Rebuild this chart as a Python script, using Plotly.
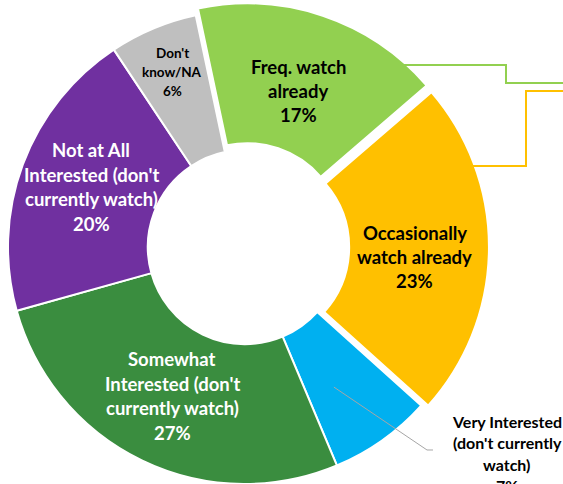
import math
import plotly.graph_objects as go

# ---------------- data ----------------
categories = [
    "Freq. watch already",
    "Occasionally watch already",
    "Very Interested (don't currently watch)",
    "Somewhat Interested (don't currently watch)",
    "Not at All Interested (don't currently watch)",
    "Don't know/NA",
]
values = [17, 23, 7, 27, 20, 6]
label_lines = [
    ["Freq. watch", "already"],
    ["Occasionally", "watch already"],
    ["Very Interested", "(don't currently", "watch)"],
    ["Somewhat", "Interested (don't", "currently watch)"],
    ["Not at All", "Interested (don't", "currently watch)"],
    ["Don't", "know/NA"],
]
pct_labels = ["17%", "23%", "7%", "27%", "20%", "6%"]

# ---------------- style ----------------
slice_colors = ["#92D050", "#FFC000", "#00B0F0", "#3A8D3F", "#7030A0", "#BFBFBF"]
text_colors = ["#000000", "#000000", "#000000", "#FFFFFF", "#FFFFFF", "#000000"]
font_sizes = [18.5, 18.5, 16, 18.5, 18.5, 13.5]
line_gaps = [24, 24, 21.5, 24.5, 24.5, 19]
pull_px = [7, 7, 0, 0, 0, 0]
label_radius = [0.666, 0.688, None, 0.70, 0.697, 0.80]
label_angle_offset = [0.2, 3.0, 0, 0.3, 0.9, 0.2]
rotation = -12
hole = 0.41
FONT = "Lato"
TRANSPARENT = "rgba(0,0,0,0)"

W, H = 563, 484
cx, cy, r = 245, 247, 237  # pie centre and radius in pixels


def to_paper(x, y):
    return x / W, 1 - y / H


def polar(angle_deg, dist, ox=0.0, oy=0.0):
    a = math.radians(angle_deg)
    return cx + ox + dist * math.sin(a), cy + oy - dist * math.cos(a)


def clamp(v):
    return min(1.0, max(0.0, v))


def domain_for(ox, oy):
    return dict(
        x=[clamp((cx + ox - r) / W), clamp((cx + ox + r) / W)],
        y=[clamp(1 - (cy + oy + r) / H), clamp(1 - (cy + oy - r) / H)],
    )


total = sum(values)
mids = []
acc = 0
for v in values:
    mids.append(rotation + (acc + v / 2) / total * 360)
    acc += v

offsets = []
for i in range(len(values)):
    a = math.radians(mids[i])
    offsets.append((pull_px[i] * math.sin(a), -pull_px[i] * math.cos(a)))

fig = go.Figure()


def add_pie(visible_idx, ox, oy):
    cols = [slice_colors[k] if k in visible_idx else TRANSPARENT for k in range(len(values))]
    widths = [2 if k in visible_idx else 0 for k in range(len(values))]
    fig.add_trace(
        go.Pie(
            labels=categories,
            values=values,
            sort=False,
            direction="clockwise",
            rotation=rotation,
            hole=hole,
            marker=dict(colors=cols, line=dict(color="#FFFFFF", width=widths)),
            textinfo="none",
            hoverinfo="label+percent",
            domain=domain_for(ox, oy),
            showlegend=False,
        )
    )


# unexploded slices
add_pie([k for k in range(len(values)) if pull_px[k] == 0], 0, 0)
# exploded slices, each drawn displaced along its mid-angle
for k in range(len(values)):
    if pull_px[k]:
        add_pie([k], *offsets[k])

annotations = []


def add_label(lines, x, y_first, gap, size, color):
    for j, line in enumerate(lines):
        px, py = to_paper(x, y_first + j * gap)
        annotations.append(
            dict(
                x=px, y=py, xref="paper", yref="paper", text=line,
                showarrow=False, xanchor="center", yanchor="middle", align="center",
                font=dict(family=FONT, size=size, color=color, weight="bold"),
            )
        )


for i, lines in enumerate(label_lines):
    if label_radius[i] is None:
        continue
    ox, oy = offsets[i]
    dist = label_radius[i] * r
    x, y = polar(mids[i] + label_angle_offset[i], dist, ox, oy)
    all_lines = lines + [pct_labels[i]]
    y_first = y - (len(all_lines) - 1) * line_gaps[i] / 2
    add_label(all_lines, x, y_first, line_gaps[i], font_sizes[i], text_colors[i])

# outside label for "Very Interested"
vi = 2
add_label(label_lines[vi] + [pct_labels[vi]], cx + 262, cy + 174, line_gaps[vi], font_sizes[vi], text_colors[vi])


def path_from(points):
    pts = [to_paper(x, y) for x, y in points]
    return "M " + " L ".join(f"{a:.5f},{b:.5f}" for a, b in pts)


sx, sy = polar(mids[vi] + 3, 0.70 * r)
shapes = [
    dict(type="path", xref="paper", yref="paper",
         path=path_from([(sx, sy), (cx + 182, cy + 203), (cx + 188, cy + 203)]),
         line=dict(color="#A6A6A6", width=1)),
    dict(type="path", xref="paper", yref="paper",
         path=path_from([(cx + 155, cy - 182), (cx + 261, cy - 182), (cx + 261, cy - 164), (cx + 330, cy - 164)]),
         line=dict(color="#92D050", width=2)),
    dict(type="path", xref="paper", yref="paper",
         path=path_from([(cx + 227, cy - 81), (cx + 281, cy - 81), (cx + 281, cy - 156), (cx + 330, cy - 156)]),
         line=dict(color="#FFC000", width=2)),
]

fig.update_layout(
    width=W, height=H,
    margin=dict(l=0, r=0, t=0, b=0),
    paper_bgcolor="#FFFFFF",
    plot_bgcolor="#FFFFFF",
    annotations=annotations,
    shapes=shapes,
)

fig.write_html("out.html")
